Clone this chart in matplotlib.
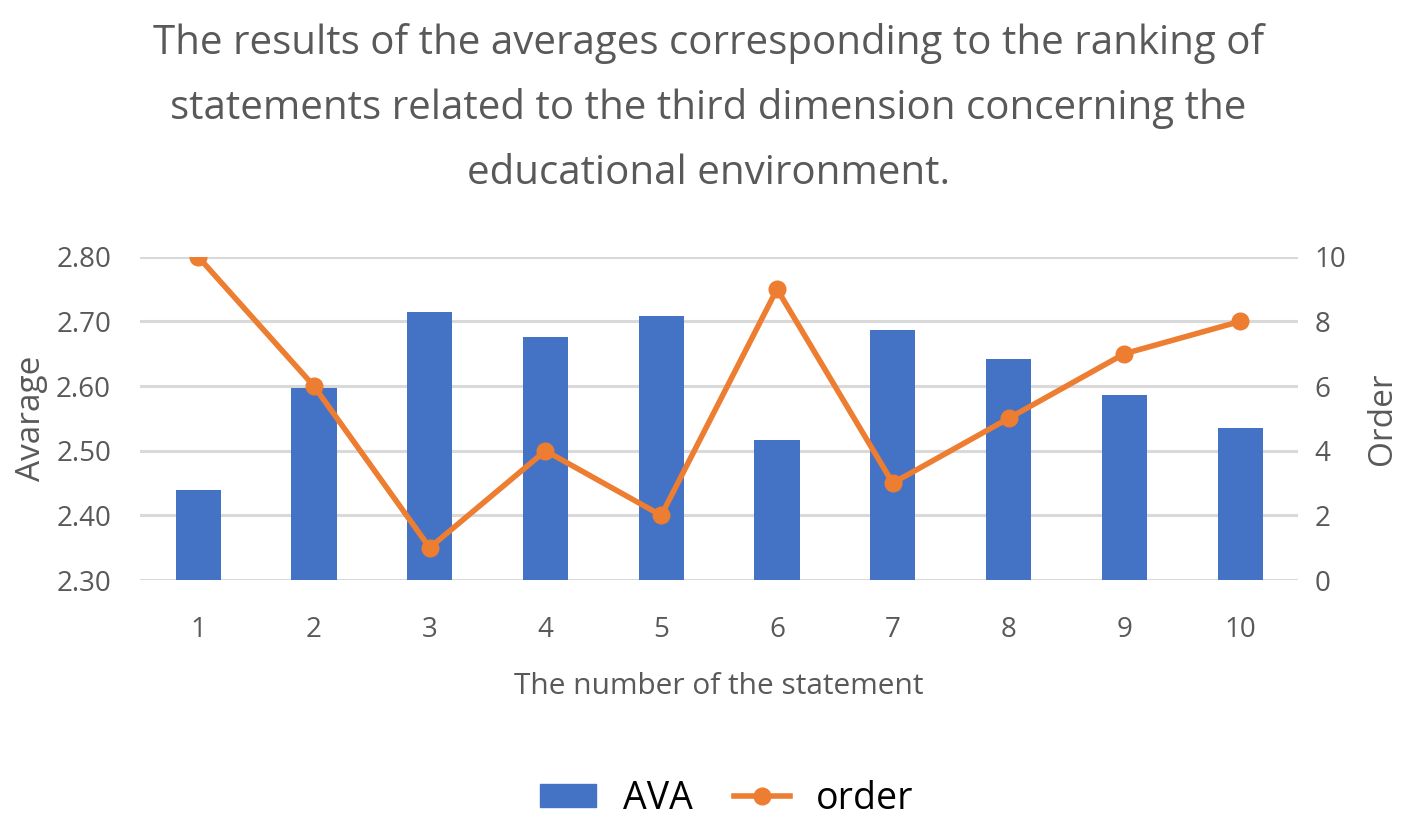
import matplotlib.pyplot as plt
from matplotlib.lines import Line2D
from matplotlib.patches import Patch

plt.rcParams['font.family'] = ['Open Sans', 'DejaVu Sans']

statements = ['1', '2', '3', '4', '5', '6', '7', '8', '9', '10']
ava = [2.44, 2.597, 2.715, 2.676, 2.709, 2.517, 2.686, 2.642, 2.586, 2.535]
order = [10, 6, 1, 4, 2, 9, 3, 5, 7, 8]

blue = '#4472C4'
orange = '#ED7D31'
grey = '#595959'

fig = plt.figure(figsize=(14.17, 8.31), dpi=100)
ax = fig.add_axes([0.099, 0.302, 0.817, 0.389])
xs = list(range(len(statements)))

ax.bar(xs, ava, width=0.39, color=blue, zorder=2)
ax.set_ylim(2.30, 2.80)
ax.set_xlim(-0.5, 9.5)
ax.set_yticks([2.30, 2.40, 2.50, 2.60, 2.70, 2.80])
ax.set_yticklabels([f"{v:.2f}" for v in [2.30, 2.40, 2.50, 2.60, 2.70, 2.80]])
ax.set_xticks(xs)
ax.set_xticklabels(statements)
ax.yaxis.grid(True, color='#D9D9D9', linewidth=2.2, zorder=0)
ax.set_axisbelow(True)
for s in ax.spines.values():
    s.set_visible(False)
ax.tick_params(length=0, labelsize=20, colors=grey)
ax.tick_params(axis='y', pad=21)
ax.tick_params(axis='x', pad=26)
ax.set_ylabel("Avarage", fontsize=24, color=grey, labelpad=6)
ax.set_xlabel("The number of the statement", fontsize=21.5, color=grey, labelpad=20)

ax2 = ax.twinx()
ax2.plot(xs, order, color=orange, linewidth=4, marker='o', markersize=12, zorder=3)
ax2.set_ylim(0, 10)
ax2.set_yticks([0, 2, 4, 6, 8, 10])
for s in ax2.spines.values():
    s.set_visible(False)
ax2.tick_params(length=0, labelsize=20, colors=grey, pad=12)
ax2.set_ylabel("Order", fontsize=24, color=grey, labelpad=14)

fig.suptitle("The results of the averages corresponding to the ranking of\n"
             "statements related to the third dimension concerning the\n"
             "educational environment.",
             fontsize=29, color=grey, y=0.972, linespacing=1.78)

handles = [Patch(color=blue, label='AVA'),
           Line2D([0], [0], color=orange, linewidth=4, marker='o', markersize=12, label='order')]
fig.legend(handles=handles, loc='center', bbox_to_anchor=(0.513, 0.039), ncol=2,
           frameon=False, fontsize=27, handlelength=1.5, handleheight=0.55,
           handletextpad=0.7, columnspacing=1.1)

fig.savefig('out.png', dpi=100)
